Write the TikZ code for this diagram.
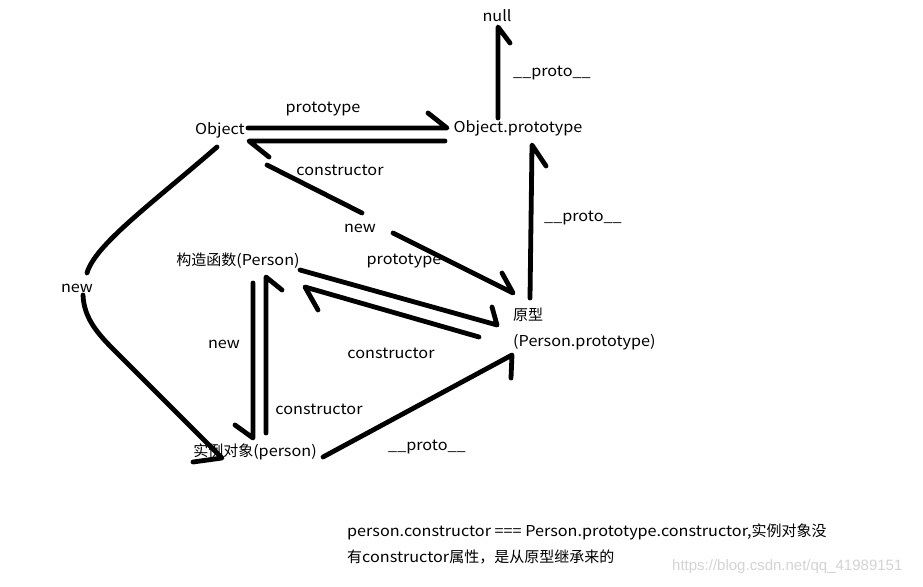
\documentclass[tikz,border=0pt]{standalone}
\usepackage{fontspec}
\setmainfont[FakeStretch=1.08]{Noto Sans CJK SC}
\newfontfamily\cjk{Noto Sans CJK SC}
\newfontfamily\wmfont{Liberation Sans}
\usetikzlibrary{calc}
\begin{document}
\begin{tikzpicture}[x=1pt,y=-1pt,
  lbl/.style={font=\fontsize{15}{18}\selectfont, inner sep=0pt, text=black},
  arr/.style={line width=4.8pt, line cap=round, line join=round, draw=black}]
\fill[white] (0,0) rectangle (923,586);
\useasboundingbox (0,0) rectangle (923,586);
% main nodes
\node[lbl] (null) at (497,16) {null};
\node[lbl] (obj) at (220,130) {Object};
\node[lbl] (objp) at (518,128) {Object.prototype};
\node[lbl] (per) at (238,261) {{\cjk 构造函数}(Person)};
\node[lbl] (yx) at (528,315) {{\cjk 原型}};
\node[lbl, anchor=west] (pp) at (513,342) {(Person.prototype)};
\node[lbl] (inst) at (255,452) {{\cjk 实例对象}(person)};
% labels
\node[lbl] (l1) at (323,109) {prototype};
\node[lbl] (l2) at (340,170) {constructor};
\node[lbl] (l3) at (552,73) {\_\_proto\_\_};
\node[lbl] (l4) at (583,218) {\_\_proto\_\_};
\node[lbl] (newm) at (360,228) {new};
\node[lbl] (l5) at (404,261) {prototype};
\node[lbl] (l6) at (391,353) {constructor};
\node[lbl] (newl) at (77,288) {new};
\node[lbl] (newv) at (224,344) {new};
\node[lbl] (l7) at (319,409) {constructor};
\node[lbl] (l8) at (427,447) {\_\_proto\_\_};
\node[lbl, anchor=west] (n1) at (347,532) {person.constructor === Person.prototype.constructor,{\cjk 实例对象没}};
\node[lbl, anchor=west] (n2) at (347,557) {{\cjk 有}constructor{\cjk 属性，是从原型继承来的}};
\node[font=\wmfont\fontsize{15}{18}\selectfont, text=black!17, anchor=west, inner sep=0pt] (wm) at (672,567) {https://blog.csdn.net/qq\_41989151};
% connectors
\draw[arr] ([shift={(28,-2)}]obj.center) -- ([shift={(-71,0)}]objp.center) -- ([shift={(-90,-15)}]objp.center);
\draw[arr] ([shift={(-73,13)}]objp.center) -- ([shift={(29,11)}]obj.center) -- ([shift={(49,27)}]obj.center);
\draw[arr] ([shift={(47,35)}]obj.center) -- ([shift={(2,-15)}]newm.center);
\draw[arr] ([shift={(33,5)}]newm.center) -- ([shift={(-15,-22)}]yx.center) -- ([shift={(-26,-42)}]yx.center);
\draw[arr] ([shift={(-3,17)}]obj.center) .. controls (150,205) and (95,245) .. ([shift={(10,-15)}]newl.center);
\draw[arr] ([shift={(6,7)}]newl.center) .. controls (84,320) and (100,336) .. (117,353) -- ([shift={(-33,6)}]inst.center) -- ([shift={(-62,10)}]inst.center);
\draw[arr] ([shift={(-20,-10)}]objp.center) -- ([shift={(1,11)}]null.center) -- ([shift={(13,27)}]null.center);
\draw[arr] ([shift={(2,-17)}]yx.center) -- ([shift={(14,17)}]objp.center) -- ([shift={(28,38)}]objp.center);
\draw[arr] ([shift={(62,9)}]per.center) -- ([shift={(-31,10)}]yx.center) -- ([shift={(-36,-8)}]yx.center);
\draw[arr] ([shift={(-49,22)}]yx.center) -- ([shift={(67,26)}]per.center) -- ([shift={(80,49)}]per.center);
\draw[arr] ([shift={(15,22)}]per.center) -- ([shift={(-2,-14)}]inst.center) -- ([shift={(-20,-27)}]inst.center);
\draw[arr] ([shift={(11,-19)}]inst.center) -- ([shift={(28,16)}]per.center) -- ([shift={(44,29)}]per.center);
\draw[arr] ([shift={(68,5)}]inst.center) -- ([shift={(-16,40)}]yx.center) -- ([shift={(-17,63)}]yx.center);
\end{tikzpicture}
\end{document}
